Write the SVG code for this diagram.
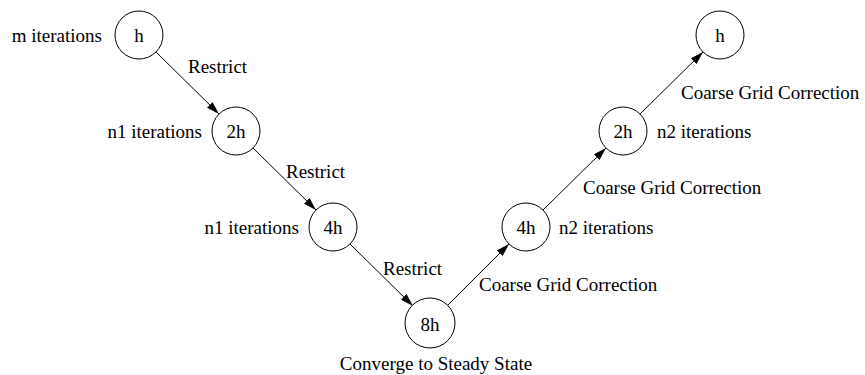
<svg xmlns="http://www.w3.org/2000/svg" width="865" height="375" viewBox="0 0 865 375">
<style>
.n circle{fill:#fff;stroke:#000;stroke-width:1}
text{font-family:"Liberation Serif","Times New Roman",serif;font-size:19px;fill:#000}
.c{text-anchor:middle}
.e{text-anchor:end}
#edges line{stroke:#000;stroke-width:1;marker-end:url(#ah)}
</style>
<defs>
<marker id="ah" markerUnits="userSpaceOnUse" markerWidth="14" markerHeight="8" refX="13" refY="4" orient="auto">
<path d="M0,0 L13,4 L0,8 Z" fill="#000"/>
</marker>
</defs>
<g id="edges">
<line x1="156" y1="52" x2="219" y2="114"/>
<line x1="253" y1="148" x2="316" y2="210"/>
<line x1="350" y1="244" x2="413" y2="306"/>
<line x1="447" y1="306" x2="509" y2="244"/>
<line x1="543" y1="210" x2="606" y2="148"/>
<line x1="640" y1="114" x2="703" y2="52"/>
</g>
<g id="edge-labels">
<text x="188" y="73">Restrict</text>
<text x="286" y="178">Restrict</text>
<text x="383" y="275">Restrict</text>
<text x="479" y="291">Coarse Grid Correction</text>
<text x="583" y="194">Coarse Grid Correction</text>
<text x="681" y="99">Coarse Grid Correction</text>
</g>
<g id="n1" class="n"><circle cx="139" cy="35" r="24"/><text class="c" x="139" y="42">h</text><text class="e" x="102" y="42">m iterations</text></g>
<g id="n2" class="n"><circle cx="236" cy="131" r="24"/><text class="c" x="236" y="138">2h</text><text class="e" x="202" y="138">n1 iterations</text></g>
<g id="n3" class="n"><circle cx="333" cy="227" r="24"/><text class="c" x="333" y="234">4h</text><text class="e" x="299" y="234">n1 iterations</text></g>
<g id="n4" class="n"><circle cx="430" cy="323" r="25"/><text class="c" x="430" y="331">8h</text><text class="c" x="436" y="370">Converge to Steady State</text></g>
<g id="n5" class="n"><circle cx="526" cy="227" r="24"/><text class="c" x="526" y="234">4h</text><text x="559" y="234">n2 iterations</text></g>
<g id="n6" class="n"><circle cx="623" cy="131" r="24"/><text class="c" x="623" y="138">2h</text><text x="657" y="138">n2 iterations</text></g>
<g id="n7" class="n"><circle cx="720" cy="35" r="24"/><text class="c" x="720" y="42">h</text></g>
</svg>
